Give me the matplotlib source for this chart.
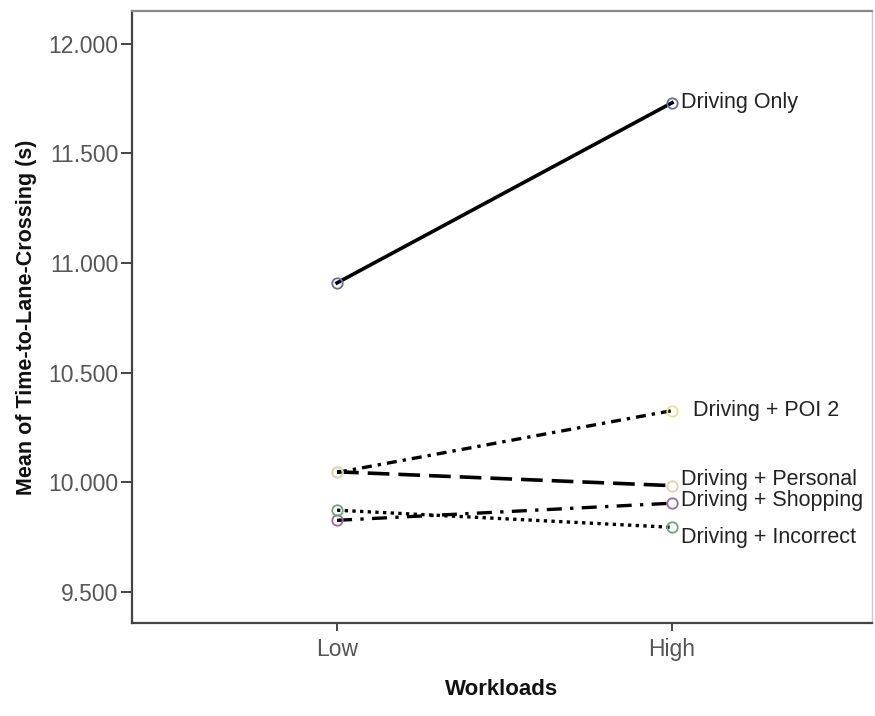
import matplotlib
matplotlib.use("Agg")
import matplotlib.pyplot as plt
from matplotlib.ticker import FormatStrFormatter

plt.rcParams['font.family'] = ['Liberation Sans', 'DejaVu Sans']

workloads = ["Low", "High"]
conditions = ["Driving Only", "Driving + POI 2", "Driving + Personal",
              "Driving + Shopping", "Driving + Incorrect"]
driving_only = [10.909, 11.730]
driving_poi2 = [10.045, 10.327]
driving_personal = [10.048, 9.985]
driving_shopping = [9.827, 9.905]
driving_incorrect = [9.873, 9.795]
yticks = [9.5, 10.0, 10.5, 11.0, 11.5, 12.0]

series = [driving_only, driving_poi2, driving_personal,
          driving_shopping, driving_incorrect]
styles = [
    dict(ls='-', lw=2.6),
    dict(ls=(0, (3, 1.8, 1, 1.8)), lw=2.4),
    dict(ls=(0, (6, 2.5)), lw=2.6),
    dict(ls=(0, (4.5, 2.5, 1, 2.5)), lw=2.4),
    dict(ls=(0, (1, 1.3)), lw=2.4),
]
marker_colors = ['#6b6b9c', '#e4e49a', '#d6d6b8', '#9a6a9a', '#6aa47e']
label_offsets = [(6.5, 0), (15, 0), (6.5, 4.5), (6.5, 2), (6.5, -7.5)]

fig = plt.figure(figsize=(8.75, 7.16), dpi=100)
ax = fig.add_axes([0.1509, 0.1299, 0.8457, 0.8547])

x = list(range(len(workloads)))
for name, vals, st, mc, off in zip(conditions, series, styles, marker_colors, label_offsets):
    ax.plot(x, vals, color='black', linestyle=st['ls'], linewidth=st['lw'],
            dash_capstyle='butt', zorder=2)
    ax.plot(x, vals, linestyle='none', marker='o', markersize=7.5,
            markerfacecolor='none', markeredgecolor=mc, markeredgewidth=1.3, zorder=3)
    ax.annotate(name, xy=(x[-1], vals[-1]), xytext=off, textcoords='offset points',
                ha='left', va='center', fontsize=15.5, color='#222222')

ax.set_xlim(-0.612, 1.597)
ax.set_ylim(9.359, 12.148)
ax.set_xticks(x)
ax.set_xticklabels(workloads)
ax.set_yticks(yticks)
ax.yaxis.set_major_formatter(FormatStrFormatter('%.3f'))

for s in ax.spines.values():
    s.set_color('#444444')
    s.set_linewidth(1.6)
ax.spines['top'].set_color('#888888')
ax.spines['right'].set_color('#cccccc')
ax.spines['right'].set_linewidth(1.0)

ax.tick_params(axis='y', direction='out', length=8, width=1.4, color='#444444',
               labelsize=16.5, labelcolor='#555555', pad=2)
ax.tick_params(axis='x', direction='out', length=6, width=1.4, color='#444444',
               labelsize=16.5, labelcolor='#555555', pad=5)

ax.set_ylabel("Mean of Time-to-Lane-Crossing (s)", fontsize=15.5, fontweight='bold',
              color='#111111', labelpad=8)
ax.set_xlabel("Workloads", fontsize=16, fontweight='bold', color='#111111', labelpad=13)

fig.savefig("out.png", dpi=100)
